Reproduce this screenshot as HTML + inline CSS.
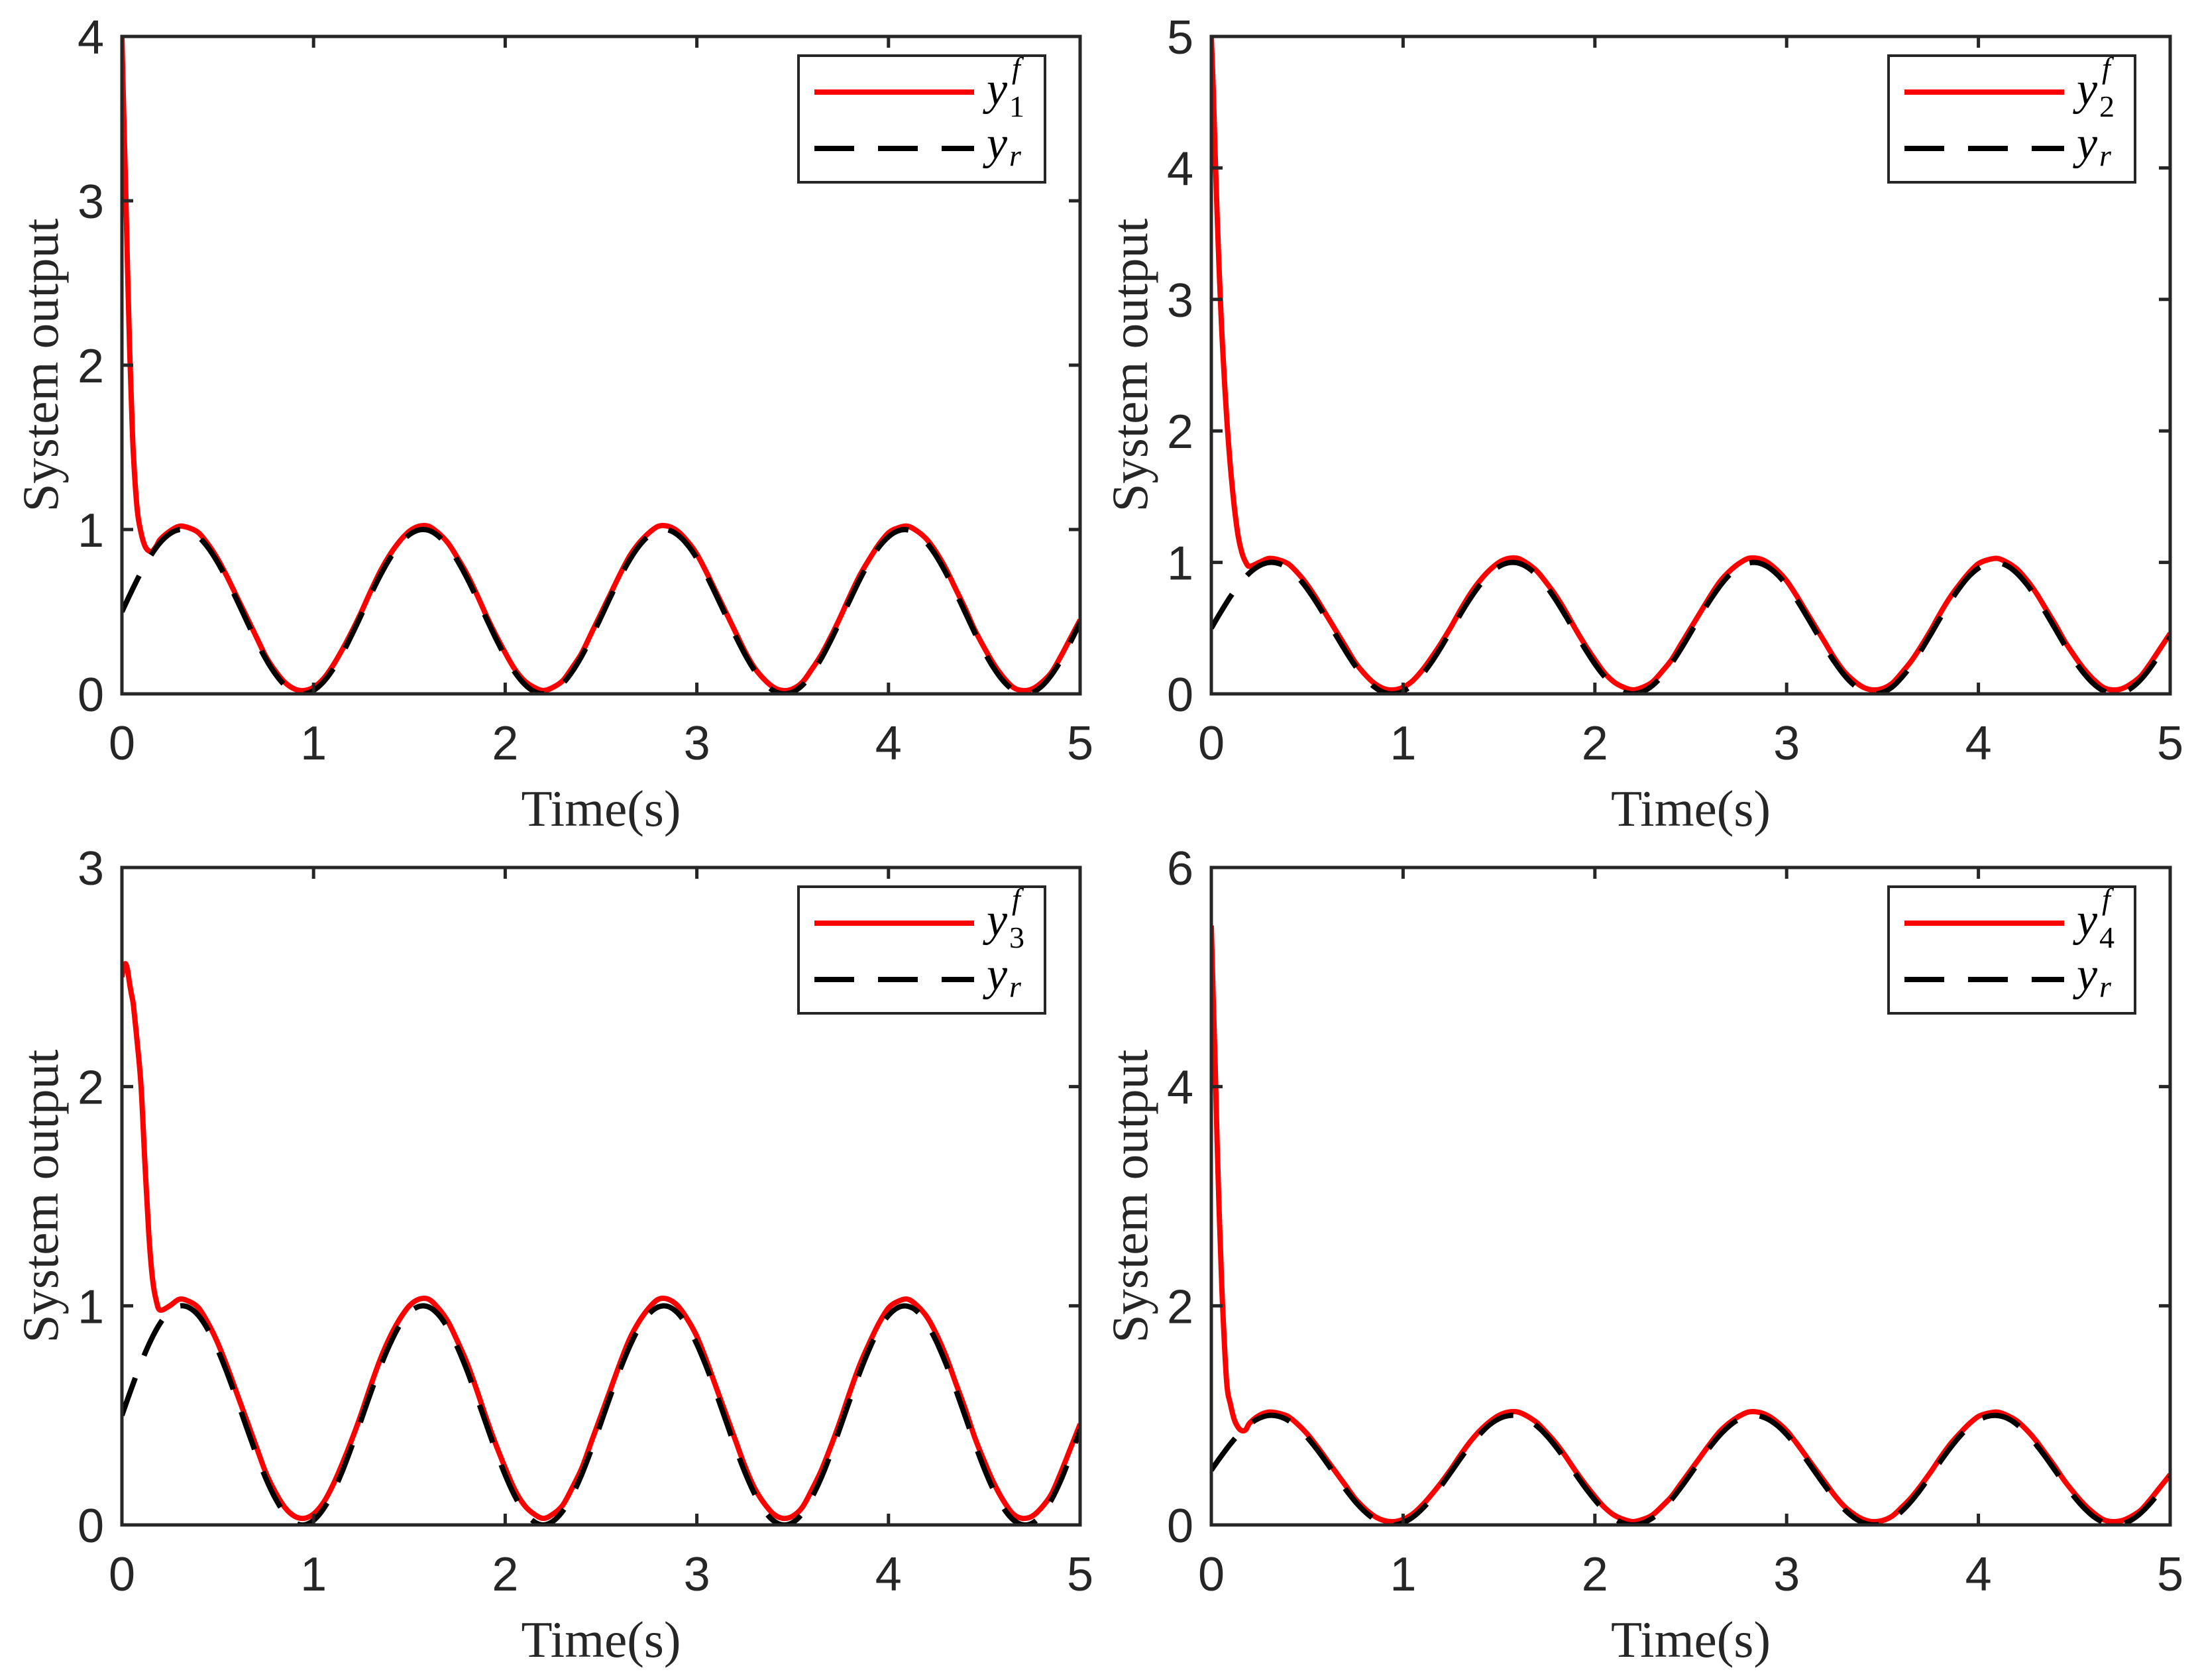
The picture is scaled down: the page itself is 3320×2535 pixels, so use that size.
<!DOCTYPE html>
<html><head><meta charset="utf-8">
<style>
html,body{margin:0;padding:0;background:#fff;}
svg{display:block;}
</style></head>
<body>
<svg id="fig" xmlns="http://www.w3.org/2000/svg" width="3320" height="2535" viewBox="0 0 3320 2535">
<rect width="3320" height="2535" fill="#fff"/>
</svg>
<script>
// ---- data ----
const refTimesStep = 0.05;
const yRef = [0.500,0.624,0.740,0.841,0.921,0.974,0.999,0.992,0.955,0.889,0.799,0.691,0.571,0.446,0.325,0.214,0.122,0.053,0.011,0.000,0.021,0.071,0.147,0.245,0.360,0.483,0.608,0.725,0.828,0.912,0.969,0.997,0.995,0.961,0.899,0.812,0.706,0.587,0.462,0.340,0.228,0.132,0.060,0.015,0.000,0.017,0.063,0.136,0.232,0.345,0.467,0.592,0.710,0.816,0.902,0.963,0.995,0.997,0.967,0.909,0.825,0.721,0.603,0.479,0.356,0.242,0.144,0.068,0.019,0.000,0.011,0.052,0.125,0.217,0.328,0.450,0.575,0.695,0.803,0.893,0.956,0.992,0.998,0.974,0.918,0.837,0.735,0.620,0.496,0.372,0.256,0.156,0.077,0.024,0.001,0.008,0.047,0.114,0.205,0.316,0.434];
const redTimes = [0,0.01,0.02,0.03,0.04,0.05,0.06,0.08,0.1,0.12,0.14,0.16,0.18,0.2,0.25,0.3,0.35,0.4,0.45,0.5,0.55,0.6,0.65,0.7,0.75,0.8,0.85,0.9,0.95,1,1.05,1.1,1.15,1.2,1.25,1.3,1.35,1.4,1.45,1.5,1.55,1.6,1.65,1.7,1.75,1.8,1.85,1.9,1.95,2,2.05,2.1,2.15,2.2,2.25,2.3,2.35,2.4,2.45,2.5,2.55,2.6,2.65,2.7,2.75,2.8,2.85,2.9,2.95,3,3.05,3.1,3.15,3.2,3.25,3.3,3.35,3.4,3.45,3.5,3.55,3.6,3.65,3.7,3.75,3.8,3.85,3.9,3.95,4,4.05,4.1,4.15,4.2,4.25,4.3,4.35,4.4,4.45,4.5,4.55,4.6,4.65,4.7,4.75,4.8,4.85,4.9,4.95,5];
const y1f = [4.0,3.5,3.05,2.55,2.1,1.75,1.45,1.12,0.98,0.9,0.87,0.87,0.9,0.94,
0.99,1.02,1.01,0.98,0.91,0.82,0.71,0.59,0.47,0.35,0.23,0.14,0.07,0.03,0.02,0.04,0.09,0.17,0.27,0.38,0.50,0.63,0.75,0.85,0.93,0.99,1.02,1.02,0.98,0.92,0.83,0.73,0.61,0.48,0.36,0.25,0.15,0.08,0.04,0.02,0.04,0.08,0.16,0.25,0.37,0.49,0.61,0.73,0.84,0.92,0.98,1.02,1.02,0.99,0.93,0.85,0.74,0.62,0.50,0.38,0.26,0.16,0.09,0.04,0.02,0.03,0.07,0.15,0.24,0.35,0.47,0.60,0.72,0.82,0.91,0.98,1.01,1.02,0.99,0.94,0.86,0.76,0.64,0.52,0.39,0.28,0.18,0.10,0.04,0.02,0.03,0.07,0.13,0.23,0.34,0.45];
const y2f = [5.0,4.6,4.1,3.65,3.25,2.9,2.6,2.1,1.72,1.42,1.2,1.07,1.0,0.97,
1.00,1.03,1.02,0.99,0.92,0.83,0.72,0.60,0.48,0.36,0.24,0.15,0.08,0.04,0.03,0.05,0.10,0.18,0.28,0.39,0.51,0.64,0.76,0.86,0.94,1.00,1.03,1.03,0.99,0.93,0.84,0.74,0.62,0.49,0.37,0.26,0.16,0.09,0.05,0.03,0.05,0.09,0.17,0.26,0.38,0.50,0.62,0.74,0.85,0.93,0.99,1.03,1.03,1.00,0.94,0.86,0.75,0.63,0.51,0.39,0.27,0.17,0.10,0.05,0.03,0.04,0.08,0.16,0.25,0.36,0.48,0.61,0.73,0.83,0.92,0.99,1.02,1.03,1.00,0.95,0.87,0.77,0.65,0.53,0.40,0.29,0.19,0.11,0.05,0.03,0.04,0.08,0.14,0.24,0.35,0.46];
const y3f = [2.5,2.55,2.56,2.53,2.47,2.42,2.37,2.2,2.0,1.65,1.33,1.12,1.02,0.98,
1.00,1.03,1.02,0.99,0.92,0.83,0.72,0.60,0.48,0.36,0.24,0.15,0.08,0.04,0.03,0.05,0.10,0.18,0.28,0.39,0.51,0.64,0.76,0.86,0.94,1.00,1.03,1.03,0.99,0.93,0.84,0.74,0.62,0.49,0.37,0.26,0.16,0.09,0.05,0.03,0.05,0.09,0.17,0.26,0.38,0.50,0.62,0.74,0.85,0.93,0.99,1.03,1.03,1.00,0.94,0.86,0.75,0.63,0.51,0.39,0.27,0.17,0.10,0.05,0.03,0.04,0.08,0.16,0.25,0.36,0.48,0.61,0.73,0.83,0.92,0.99,1.02,1.03,1.00,0.95,0.87,0.77,0.65,0.53,0.40,0.29,0.19,0.11,0.05,0.03,0.04,0.08,0.14,0.24,0.35,0.46];
const y4f = [5.47,4.8,4.2,3.5,2.9,2.4,1.95,1.3,1.1,0.96,0.89,0.86,0.87,0.93,
1.00,1.03,1.02,0.99,0.92,0.83,0.72,0.60,0.48,0.36,0.24,0.15,0.08,0.04,0.03,0.05,0.10,0.18,0.28,0.39,0.51,0.64,0.76,0.86,0.94,1.00,1.03,1.03,0.99,0.93,0.84,0.74,0.62,0.49,0.37,0.26,0.16,0.09,0.05,0.03,0.05,0.09,0.17,0.26,0.38,0.50,0.62,0.74,0.85,0.93,0.99,1.03,1.03,1.00,0.94,0.86,0.75,0.63,0.51,0.39,0.27,0.17,0.10,0.05,0.03,0.04,0.08,0.16,0.25,0.36,0.48,0.61,0.73,0.83,0.92,0.99,1.02,1.03,1.00,0.95,0.87,0.77,0.65,0.53,0.40,0.29,0.19,0.11,0.05,0.03,0.04,0.08,0.14,0.24,0.35,0.46];
const xTicks = [0,1,2,3,4,5];
const yTicks1 = [0,1,2,3,4];
const yTicks2 = [0,1,2,3,4,5];
const yTicks3 = [0,1,2,3];
const yTicks4 = [0,2,4,6];
const subLabels = ["1","2","3","4"];

// ---- drawing ----
const NS = "http://www.w3.org/2000/svg";
const svg = document.getElementById('fig');
function mk(tag, attrs, parent){
  const e = document.createElementNS(NS, tag);
  for (const k in attrs) e.setAttribute(k, attrs[k]);
  (parent||svg).appendChild(e);
  return e;
}
function smoothPath(pts){
  let d = "M" + pts[0][0].toFixed(1) + " " + pts[0][1].toFixed(1);
  for (let i=0;i<pts.length-1;i++){
    const p0 = pts[Math.max(0,i-1)], p1 = pts[i], p2 = pts[i+1], p3 = pts[Math.min(pts.length-1,i+2)];
    const c1x = p1[0]+(p2[0]-p0[0])/6, c1y = p1[1]+(p2[1]-p0[1])/6;
    const c2x = p2[0]-(p3[0]-p1[0])/6, c2y = p2[1]-(p3[1]-p1[1])/6;
    d += "C"+c1x.toFixed(1)+" "+c1y.toFixed(1)+" "+c2x.toFixed(1)+" "+c2y.toFixed(1)+" "+p2[0].toFixed(1)+" "+p2[1].toFixed(1);
  }
  return d;
}
const panels = [
  {L:184,R:1630,T:55,B:1047,ymax:4,yt:yTicks1,red:y1f},
  {L:1828,R:3275,T:55,B:1047,ymax:5,yt:yTicks2,red:y2f},
  {L:184,R:1630,T:1309,B:2301,ymax:3,yt:yTicks3,red:y3f},
  {L:1828,R:3275,T:1309,B:2301,ymax:6,yt:yTicks4,red:y4f}
];
const AX = "#262626";
panels.forEach((p, idx) => {
  const g = mk('g', {});
  
  
  const xs = t => p.L + (t/5)*(p.R-p.L);
  const ys = v => p.B - (v/p.ymax)*(p.B-p.T);
  const clipId = 'clip'+idx;
  const cp = mk('clipPath', {id:clipId}, g);
  mk('rect', {x:p.L, y:p.T, width:p.R-p.L, height:p.B-p.T}, cp);
  // red series
  const rp = redTimes.map((t,i)=>[xs(t), ys(p.red[i])]);
  const red = mk('path', {d:smoothPath(rp), fill:'none', stroke:'#ff0000', 'stroke-width':8, 'stroke-linejoin':'round', 'clip-path':'url(#'+clipId+')'}, g);
  
  
  // reference
  const bp = yRef.map((v,i)=>[xs(i*refTimesStep), ys(v)]);
  const blk = mk('path', {d:smoothPath(bp), fill:'none', stroke:'#000', 'stroke-width':8, 'stroke-dasharray':'60 36', 'clip-path':'url(#'+clipId+')'}, g);
  
  
  // frame
  const fr = mk('rect', {x:p.L, y:p.T, width:p.R-p.L, height:p.B-p.T, fill:'none', stroke:AX, 'stroke-width':5}, g);
  
  
  // x ticks
  xTicks.forEach(t => {
    const x = xs(t);
    mk('line', {x1:x, y1:p.B, x2:x, y2:p.B-17, stroke:AX, 'stroke-width':5}, g);
    mk('line', {x1:x, y1:p.T, x2:x, y2:p.T+17, stroke:AX, 'stroke-width':5}, g);
    const tx = mk('text', {x:x, y:p.B+99, 'text-anchor':'middle', 'font-family':'Liberation Sans, Arial, sans-serif', 'font-size':72, fill:AX}, g);
    tx.textContent = t;
    
    
  });
  p.yt.forEach(v => {
    const y = ys(v);
    mk('line', {x1:p.L, y1:y, x2:p.L+17, y2:y, stroke:AX, 'stroke-width':5}, g);
    mk('line', {x1:p.R, y1:y, x2:p.R-17, y2:y, stroke:AX, 'stroke-width':5}, g);
    const ty = mk('text', {x:p.L-27, y:y+26, 'text-anchor':'end', 'font-family':'Liberation Sans, Arial, sans-serif', 'font-size':72, fill:AX}, g);
    ty.textContent = v;
    
    
  });
  // axis titles
  const xt = mk('text', {x:(p.L+p.R)/2, y:p.B+199, 'text-anchor':'middle', 'font-family':'Liberation Serif, serif', 'font-size':77, fill:AX}, g);
  xt.textContent = 'Time(s)';
  
  
  const cy = (p.T+p.B)/2, bx = p.L-97;
  const yt = mk('text', {x:bx, y:cy, 'text-anchor':'middle', transform:'rotate(-90 '+bx+' '+cy+')', 'font-family':'Liberation Serif, serif', 'font-size':77, fill:AX}, g);
  yt.textContent = 'System output';
  
  
  // legend
  const lg = mk('g', {}, g);
  
  
  const lx = p.R-425, ly = p.T+29;
  mk('rect', {x:lx, y:ly, width:372, height:191, fill:'#fff', stroke:AX, 'stroke-width':4}, lg);
  mk('line', {x1:lx+24, y1:ly+55, x2:lx+265, y2:ly+55, stroke:'#ff0000', 'stroke-width':8}, lg);
  mk('line', {x1:lx+24, y1:ly+140, x2:lx+265, y2:ly+140, stroke:'#000', 'stroke-width':8, 'stroke-dasharray':'60 36'}, lg);
  const t1 = mk('text', {x:lx+284, y:ly+73, 'font-family':'Liberation Serif, serif', 'font-style':'italic', 'font-size':70, fill:'#000'}, lg);
  t1.textContent = 'y';
  
  
  const sup = mk('text', {x:lx+322, y:ly+34, 'font-family':'Liberation Serif, serif', 'font-style':'italic', 'font-size':46, fill:'#000'}, lg);
  sup.textContent = 'f';
  const sub = mk('text', {x:lx+318, y:ly+92, 'font-family':'Liberation Serif, serif', 'font-size':46, fill:'#000'}, lg);
  sub.textContent = subLabels[idx];
  const t2 = mk('text', {x:lx+284, y:ly+155, 'font-family':'Liberation Serif, serif', 'font-style':'italic', 'font-size':70, fill:'#000'}, lg);
  t2.textContent = 'y';
  
  
  const sub2 = mk('text', {x:lx+318, y:ly+166, 'font-family':'Liberation Serif, serif', 'font-style':'italic', 'font-size':46, fill:'#000'}, lg);
  sub2.textContent = 'r';
});
</script>
</body></html>
